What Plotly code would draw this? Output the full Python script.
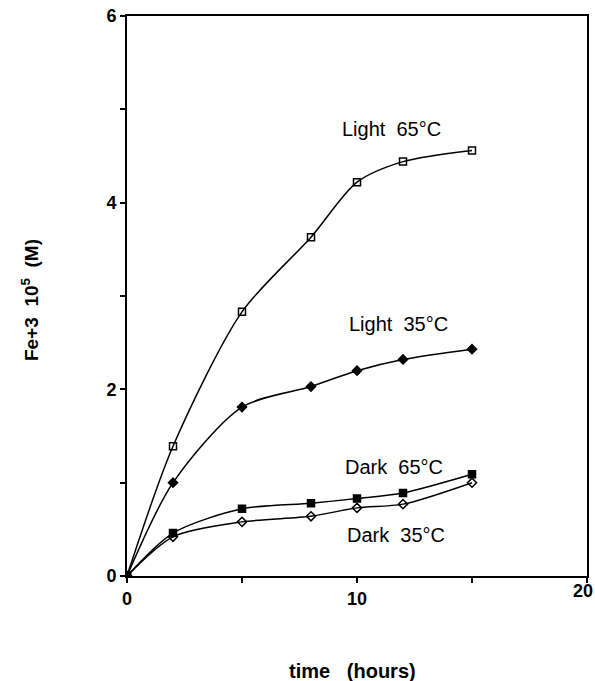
import plotly.graph_objects as go

time_h = [0, 2, 5, 8, 10, 12, 15]
light_65 = [0, 1.39, 2.83, 3.63, 4.22, 4.44, 4.56]
light_35 = [0, 1.00, 1.81, 2.03, 2.20, 2.32, 2.43]
dark_65 = [0, 0.46, 0.72, 0.78, 0.83, 0.89, 1.09]
dark_35 = [0, 0.42, 0.58, 0.64, 0.73, 0.77, 1.00]

x_major = [0, 10]
x_minor = [5, 15, 20]
x_edge_label = 20
y_major = [0, 2, 4, 6]
y_minor = [1, 3, 5]

series = [
    ("Light&nbsp;&nbsp;65°C", light_65, "square-open", 11.5, 4.79),
    ("Light&nbsp;&nbsp;35°C", light_35, "diamond", 11.8, 2.70),
    ("Dark&nbsp;&nbsp;65°C", dark_65, "square", 11.6, 1.17),
    ("Dark&nbsp;&nbsp;35°C", dark_35, "diamond-open", 11.7, 0.44),
]

fig = go.Figure()
for name, ys, sym, lx, ly in series:
    fig.add_trace(go.Scatter(
        x=time_h, y=ys, mode="lines+markers",
        line=dict(color="black", width=1.5, shape="spline", smoothing=0.8),
        marker=dict(symbol=sym, size=7, color="black",
                    line=dict(color="black", width=1.5)),
        showlegend=False,
    ))
    fig.add_annotation(x=lx, y=ly, text=name, showarrow=False,
                       font=dict(family="Liberation Sans, Arial", size=20, color="black"))

# last x tick label, kept inside the page edge like the reference
fig.add_annotation(x=x_edge_label, yref="paper", y=0, xanchor="right", yanchor="top",
                   xshift=8, yshift=-3, showarrow=False,
                   text=f"<b>{x_edge_label}</b>", font=dict(size=18, color="black"))

fig.add_annotation(xref="paper", yref="paper", x=(352 - 127) / 460, y=-(671 - 576) / 560,
                   xanchor="center", yanchor="middle",
                   text="<b>time&nbsp;&nbsp;&nbsp;(hours)</b>", showarrow=False,
                   font=dict(size=20, color="black"))
fig.add_annotation(xref="paper", yref="paper", x=-(127 - 30) / 460, y=(576 - 300) / 560,
                   xanchor="center", yanchor="middle",
                   text="<b>Fe+3&nbsp;&nbsp;10<sup>5</sup>&nbsp;&nbsp;(M)</b>", showarrow=False,
                   textangle=-90, font=dict(size=19, color="black"))

fig.update_layout(
    width=595, height=681,
    margin=dict(l=127, r=8, t=16, b=105),
    paper_bgcolor="white", plot_bgcolor="white",
    font=dict(family="Liberation Sans, Arial", color="black"),
)
fig.update_xaxes(
    range=[0, 20], tickvals=x_major, ticktext=[f"<b>{v}</b>" for v in x_major],
    ticks="outside", ticklen=5, tickwidth=1.5, tickcolor="black",
    minor=dict(tickvals=x_minor, ticks="outside", ticklen=5, tickwidth=1.5, tickcolor="black", showgrid=False),
    showline=True, linecolor="black", linewidth=2, mirror=True,
    showgrid=False, zeroline=False, automargin=False,
    tickfont=dict(size=18),
)
fig.update_yaxes(
    range=[0, 6], tickvals=y_major, ticktext=[f"<b>{v}</b>" for v in y_major],
    ticks="outside", ticklen=5, tickwidth=1.5, tickcolor="black",
    minor=dict(tickvals=y_minor, ticks="outside", ticklen=5, tickwidth=1.5, tickcolor="black", showgrid=False),
    showline=True, linecolor="black", linewidth=2, mirror=True,
    showgrid=False, zeroline=False, automargin=False,
    tickfont=dict(size=18),
)
fig.write_html("out.html")
